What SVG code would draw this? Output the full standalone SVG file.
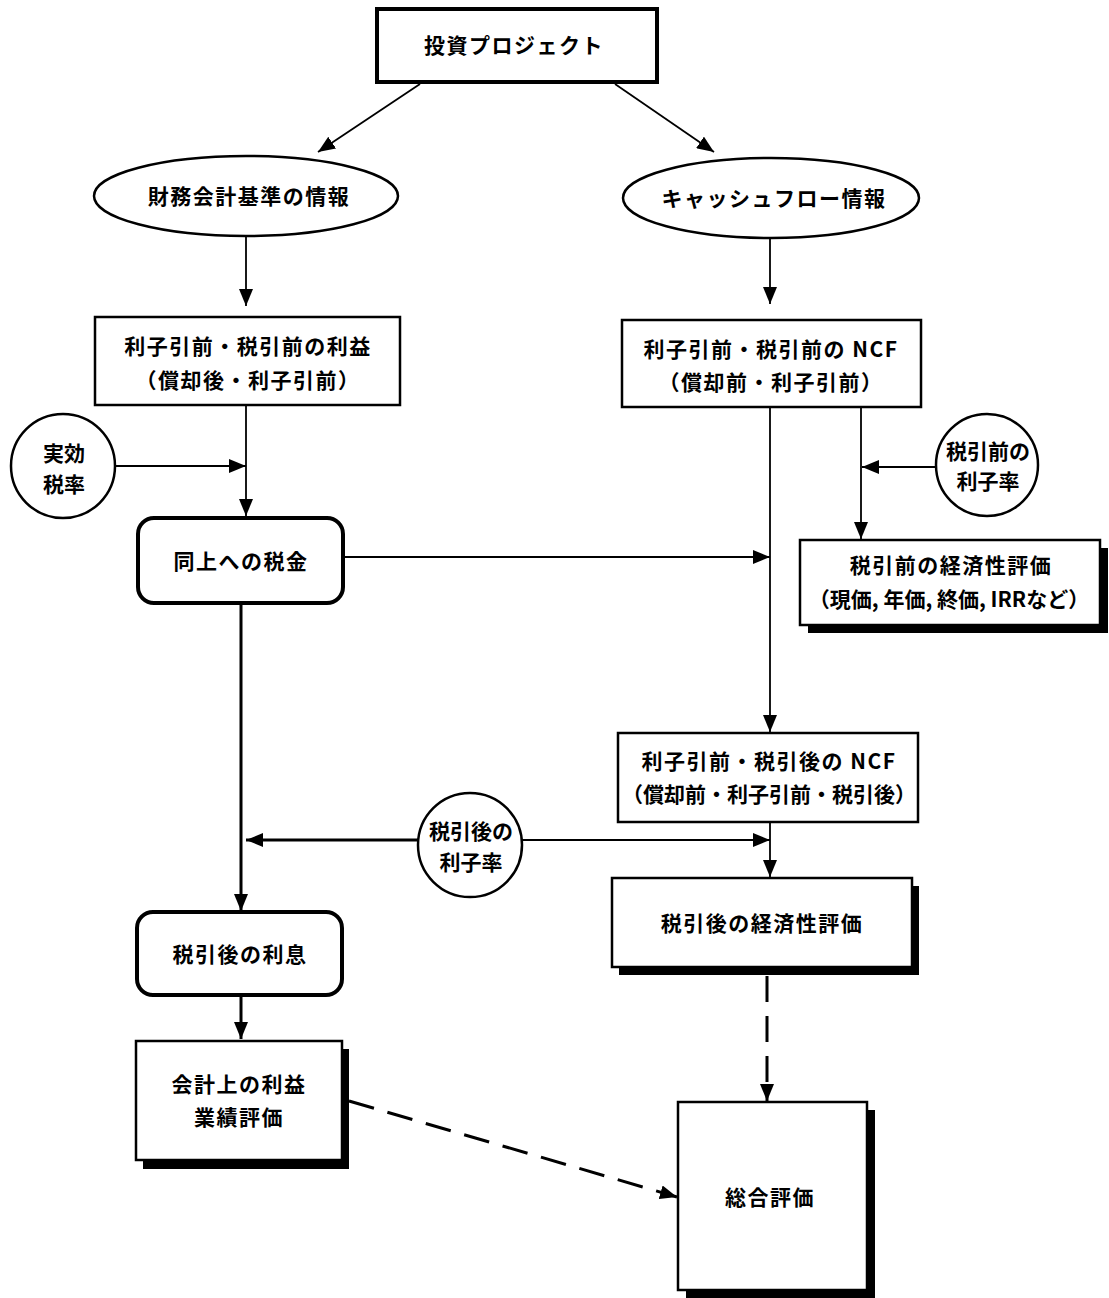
<svg xmlns="http://www.w3.org/2000/svg" width="1109" height="1298" viewBox="0 0 1109 1298">
<style>
.t{font-family:"Noto Sans CJK JP","Noto Sans",sans-serif;font-weight:bold;font-size:21px;fill:#000;text-anchor:middle;letter-spacing:1.5px}
.n{letter-spacing:0}
.box{fill:#fff;stroke:#000;stroke-width:2.5}
.thick{fill:#fff;stroke:#000;stroke-width:4}
.sh{fill:#000}
.ln{stroke:#000;stroke-width:1.8;fill:none}
.lnb{stroke:#000;stroke-width:3;fill:none}
.dash{stroke:#000;stroke-width:3;fill:none;stroke-dasharray:26 14}
</style>
<defs>
<marker id="ah" markerUnits="userSpaceOnUse" markerWidth="18" markerHeight="14" refX="17" refY="7" orient="auto">
<path d="M0,0 L17,7 L0,14 z" fill="#000"/>
</marker>
</defs>
<rect width="1109" height="1298" fill="#fff"/>
<g id="connectors">
<line class="ln" x1="420" y1="84" x2="318" y2="152" marker-end="url(#ah)"/>
<line class="ln" x1="615" y1="84" x2="714" y2="152" marker-end="url(#ah)"/>
<line class="ln" x1="246" y1="237" x2="246" y2="306" marker-end="url(#ah)"/>
<line class="ln" x1="770" y1="239" x2="770" y2="304" marker-end="url(#ah)"/>
<line class="ln" x1="246" y1="406" x2="246" y2="516" marker-end="url(#ah)"/>
<line class="ln" x1="115" y1="466" x2="246" y2="466" marker-end="url(#ah)"/>
<line class="ln" x1="344" y1="557" x2="770" y2="557" marker-end="url(#ah)"/>
<line class="ln" x1="770" y1="408" x2="770" y2="732" marker-end="url(#ah)"/>
<line class="ln" x1="861" y1="408" x2="861" y2="539" marker-end="url(#ah)"/>
<line class="ln" x1="936" y1="467" x2="862" y2="467" marker-end="url(#ah)"/>
<line class="lnb" x1="241" y1="604" x2="241" y2="911" marker-end="url(#ah)"/>
<line class="lnb" x1="418" y1="840" x2="246" y2="840" marker-end="url(#ah)"/>
<line class="ln" x1="522" y1="840" x2="770" y2="840" marker-end="url(#ah)"/>
<line class="ln" x1="770" y1="823" x2="770" y2="877" marker-end="url(#ah)"/>
<line class="lnb" x1="241" y1="996" x2="241" y2="1039" marker-end="url(#ah)"/>
<line class="dash" x1="767" y1="976" x2="767" y2="1101" marker-end="url(#ah)"/>
<line class="dash" x1="349" y1="1101" x2="677" y2="1197" marker-end="url(#ah)"/>
</g>
<g id="n_project">
<rect x="377" y="9" width="280" height="73" class="thick"/>
<text class="t" x="514" y="53">投資プロジェクト</text>
</g>
<g id="n_fin_info">
<ellipse cx="246" cy="196" rx="152" ry="40" class="box" stroke-width="1.8"/>
<text class="t" x="249" y="204">財務会計基準の情報</text>
</g>
<g id="n_cf_info">
<ellipse cx="771" cy="198" rx="148" ry="40" class="box" stroke-width="1.8"/>
<text class="t" x="774" y="206">キャッシュフロー情報</text>
</g>
<g id="n_profit">
<rect x="95" y="317" width="305" height="88" class="box"/>
<text class="t" x="248" y="354">利子引前・税引前の利益</text>
<text class="t" x="248" y="388">（償却後・利子引前）</text>
</g>
<g id="n_ncf_pre">
<rect x="622" y="320" width="299" height="87" class="box"/>
<text class="t" x="771" y="357">利子引前・税引前の NCF</text>
<text class="t" x="771" y="390">（償却前・利子引前）</text>
</g>
<g id="n_taxrate">
<circle cx="63" cy="466" r="52" class="box" stroke-width="1.8"/>
<text class="t n" x="64" y="461">実効</text>
<text class="t n" x="64" y="492">税率</text>
</g>
<g id="n_tax">
<rect x="138" y="518" width="205" height="85" rx="16" class="thick"/>
<text class="t" x="241" y="569">同上への税金</text>
</g>
<g id="n_pre_rate">
<circle cx="987" cy="465" r="51" class="box" stroke-width="1.8"/>
<text class="t n" x="988" y="459">税引前の</text>
<text class="t n" x="988" y="489">利子率</text>
</g>
<g id="n_pre_eval">
<rect x="808" y="548" width="300" height="85" class="sh"/>
<rect x="800" y="540" width="300" height="85" class="box"/>
<text class="t" x="951" y="573">税引前の経済性評価</text>
<text class="t n" x="949" y="607">（現価, 年価, 終価, IRRなど）</text>
</g>
<g id="n_ncf_post">
<rect x="618" y="733" width="300" height="89" class="box"/>
<text class="t" x="769" y="769">利子引前・税引後の NCF</text>
<text class="t n" x="769" y="802">（償却前・利子引前・税引後）</text>
</g>
<g id="n_post_rate">
<circle cx="470" cy="845" r="52" class="box" stroke-width="1.8"/>
<text class="t n" x="471" y="839">税引後の</text>
<text class="t n" x="471" y="870">利子率</text>
</g>
<g id="n_post_eval">
<rect x="619" y="886" width="300" height="89" class="sh"/>
<rect x="612" y="878" width="300" height="89" class="box"/>
<text class="t" x="762" y="931">税引後の経済性評価</text>
</g>
<g id="n_interest">
<rect x="137" y="912" width="205" height="83" rx="16" class="thick"/>
<text class="t" x="240" y="962">税引後の利息</text>
</g>
<g id="n_acct">
<rect x="143" y="1049" width="206" height="120" class="sh"/>
<rect x="136" y="1041" width="206" height="119" class="box"/>
<text class="t" x="239" y="1092">会計上の利益</text>
<text class="t" x="239" y="1125">業績評価</text>
</g>
<g id="n_total">
<rect x="686" y="1110" width="189" height="188" class="sh"/>
<rect x="678" y="1102" width="189" height="188" class="box" stroke-width="3"/>
<text class="t" x="770" y="1205">総合評価</text>
</g>
</svg>
